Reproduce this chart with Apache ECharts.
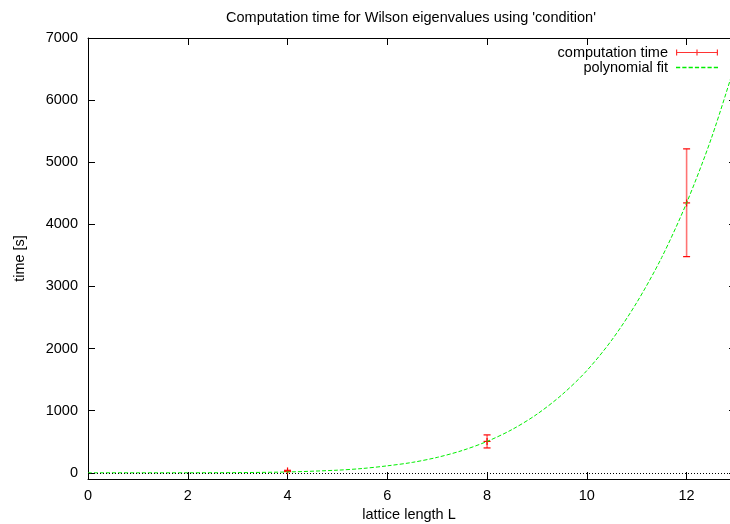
<!DOCTYPE html>
<html>
<head>
<meta charset="utf-8">
<script src="https://cdn.jsdelivr.net/npm/echarts@6/dist/echarts.min.js"></script>
<style>html,body{margin:0;padding:0;background:#fff}#c{width:730px;height:524px}</style>
</head>
<body>
<div id="c"></div>
<script>
// measured data (lattice length L, computation time, error bar low/high)
const latticeL = [4, 8, 12];
const timeValues = [30, 505, 4345];
const timeLow = [20, 400, 3480];
const timeHigh = [40, 610, 5215];
// polynomial fit curve
const fitL = [0, 1, 2, 3, 4, 5, 5.5, 6, 6.5, 7, 7.5, 8, 8.5, 9, 9.5, 10, 10.5, 11, 11.5, 12, 12.5, 13];
const fitTime = [0, 0, 0.3, 3, 13, 42, 69, 112, 167, 248, 358, 505, 696, 943, 1256, 1645, 2137, 2740, 3465, 4345, 5394, 6650];
// tick values
const xTicks = [0, 2, 4, 6, 8, 10, 12];
const yTicks = [0, 1000, 2000, 3000, 4000, 5000, 6000, 7000];

const FONT = 'Liberation Sans, Arial, sans-serif';
const FS = 14.5;
const X_MAX = 12.87; // visible part of the x range (plot is cut at the right edge)

const errData = latticeL.map((l, i) => [l, timeValues[i], timeLow[i], timeHigh[i]]);
const fitData = fitL.map((l, i) => [l, fitTime[i]]);

const chart = echarts.init(document.getElementById('c'), null, {renderer: 'canvas'});

const axisLineStyle = {show: true, onZero: false, lineStyle: {color: '#000', width: 1}};
function ticks(vals) {
  return {show: true, inside: true, length: 7, lineStyle: {color: '#000'}, customValues: vals};
}

chart.setOption({
  animation: false,
  backgroundColor: '#fff',
  title: {
    text: "Computation time for Wilson eigenvalues using 'condition'",
    left: 406, top: 5, textAlign: 'center',
    textStyle: {fontFamily: FONT, fontSize: FS, fontWeight: 'normal', color: '#000'}
  },
  legend: {
    orient: 'vertical', right: 12, top: 45, align: 'right', padding: 0,
    itemWidth: 42, itemHeight: 10, itemGap: 0,
    textStyle: {fontFamily: FONT, fontSize: FS, color: '#000', padding: [0, 3, 0, 0]},
    data: [
      {name: 'computation time',
       icon: 'path://M0 4.4H42V5.6H0Z M0 2H1.2V8H0Z M40.8 2H42V8H40.8Z M20.4 2H21.6V8H20.4Z',
       itemStyle: {color: '#ff3333', borderWidth: 0}},
      {name: 'polynomial fit',
       icon: 'path://M0 4.3H4V5.7H0Z M6 4.3H10V5.7H6Z M12 4.3H16V5.7H12Z M18 4.3H22V5.7H18Z M24 4.3H28V5.7H24Z M30 4.3H34V5.7H30Z M36 4.3H40V5.7H36Z',
       itemStyle: {color: '#00ee00', borderWidth: 0}}
    ]
  },
  grid: {left: 88, right: 0, top: 38, bottom: 45, containLabel: false, outerBoundsMode: 'none'},
  xAxis: [
    {
      type: 'value', position: 'bottom', min: 0, max: X_MAX,
      axisLine: axisLineStyle, splitLine: {show: false},
      name: 'lattice length L', nameLocation: 'middle', nameGap: 28,
      nameTextStyle: {fontFamily: FONT, fontSize: FS, color: '#000'},
      axisLabel: {margin: 9, fontFamily: FONT, fontSize: FS, color: '#000', customValues: xTicks},
      axisTick: ticks(xTicks)
    },
    {
      type: 'value', position: 'top', min: 0, max: X_MAX,
      axisLine: axisLineStyle, splitLine: {show: false},
      axisLabel: {show: false},
      axisTick: ticks(xTicks)
    }
  ],
  yAxis: [
    {
      type: 'value', position: 'left', min: -100, max: 7000,
      axisLine: axisLineStyle, splitLine: {show: false},
      name: 'time [s]', nameLocation: 'middle', nameGap: 61, nameRotate: 90,
      nameTextStyle: {fontFamily: FONT, fontSize: FS, color: '#000'},
      axisLabel: {margin: 10, fontFamily: FONT, fontSize: FS, color: '#000', customValues: yTicks,
                  formatter: function (v) { return String(v); }},
      axisTick: ticks(yTicks)
    },
    {
      type: 'value', position: 'right', min: -100, max: 7000, offset: 6,
      axisLine: axisLineStyle, splitLine: {show: false},
      axisLabel: {show: false},
      axisTick: ticks(yTicks)
    }
  ],
  series: [
    {
      name: 'computation time',
      type: 'custom',
      xAxisIndex: 0, yAxisIndex: 0,
      data: errData,
      z: 3,
      renderItem: function (params, api) {
        const x = api.value(0);
        const pC = api.coord([x, api.value(1)]);
        const pLo = api.coord([x, api.value(2)]);
        const pHi = api.coord([x, api.value(3)]);
        const cw = 3.5;
        return {
          type: 'group',
          children: [
            {type: 'line', shape: {x1: pHi[0], y1: pHi[1], x2: pLo[0], y2: pLo[1]},
             style: {stroke: 'rgba(255,0,0,0.55)', lineWidth: 1.6}},
            {type: 'line', shape: {x1: pHi[0] - cw, y1: pHi[1], x2: pHi[0] + cw, y2: pHi[1]},
             style: {stroke: '#ff0000', lineWidth: 1.2}},
            {type: 'line', shape: {x1: pLo[0] - cw, y1: pLo[1], x2: pLo[0] + cw, y2: pLo[1]},
             style: {stroke: '#ff0000', lineWidth: 1.2}},
            {type: 'line', shape: {x1: pC[0] - cw, y1: pC[1], x2: pC[0] + cw, y2: pC[1]},
             style: {stroke: '#ff0000', lineWidth: 1.2}},
            {type: 'line', shape: {x1: pC[0], y1: pC[1] - cw, x2: pC[0], y2: pC[1] + cw},
             style: {stroke: '#ff0000', lineWidth: 1.2}}
          ]
        };
      }
    },
    {
      name: 'polynomial fit',
      type: 'line',
      xAxisIndex: 0, yAxisIndex: 0,
      data: fitData,
      smooth: 0.3,
      showSymbol: false,
      symbol: 'none',
      clip: true,
      z: 4,
      lineStyle: {color: '#00ee00', width: 1, type: [4, 2]},
      itemStyle: {color: '#00ee00'},
      markLine: {
        silent: true, symbol: 'none', label: {show: false},
        lineStyle: {color: '#000', width: 1, type: [1, 2]},
        data: [{yAxis: 0}]
      }
    }
  ]
});
</script>
</body>
</html>
